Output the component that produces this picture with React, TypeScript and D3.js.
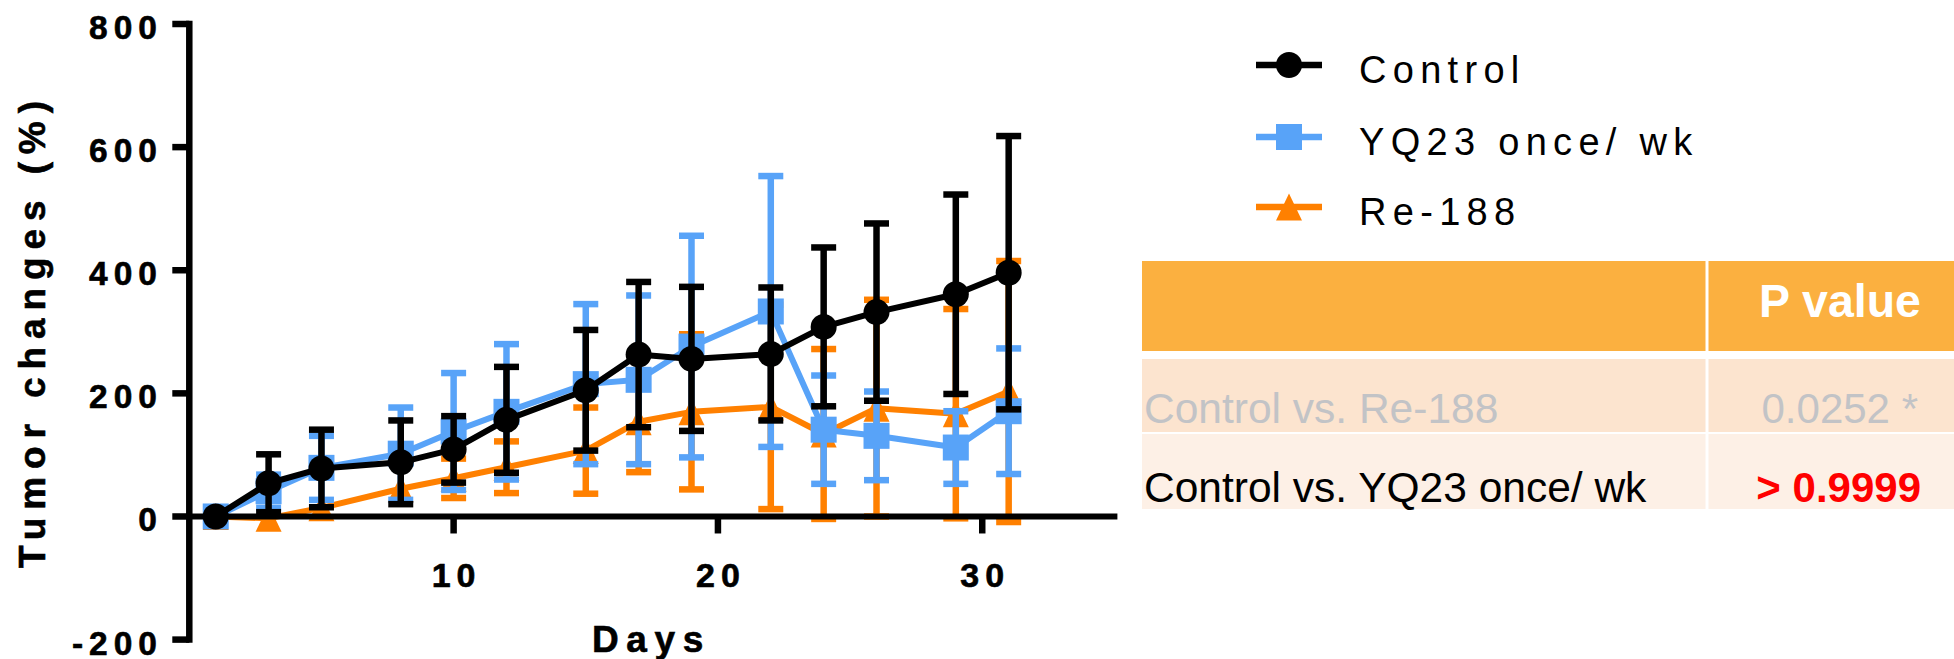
import React from "react";
import * as d3 from "d3";

// ---- data ----
const days = [1, 3, 5, 8, 10, 12, 15, 17, 19, 22, 24, 26, 29, 31];
const controlMean = [0, 54, 78, 88, 109, 157, 205, 263, 256, 264, 308, 332, 361, 396];
const controlErr = [0, 47, 63, 68, 54, 86, 98, 118, 117, 108, 129, 144, 162, 222];
const yq23Mean = [0, 41, 79, 102, 138, 170, 215, 222, 276, 333, 141, 131, 112, 171];
const yq23Err = [0, 27, 52, 75, 95, 110, 130, 137, 180, 220, 88, 72, 59, 102];
const re188Mean = [0, -3, 14, 45, 62, 80, 107, 154, 170, 178, 134, 176, 167, 203];
const re188Err = [0, 0, 0, 0, 32, 42, 70, 82, 126, 166, 138, 176, 170, 212];

const yTicks = [-200, 0, 200, 400, 600, 800];
const xTicks = [10, 20, 30];

const seriesNames = ["Control", "YQ23 once/ wk", "Re-188"];
const seriesColors = ["#000000", "#58A3F8", "#FF8000"];
const seriesShapes = ["circle", "square", "triangle"];

const tableHeader = ["", "P value"];
const tableComparisons = ["Control vs. Re-188", "Control vs. YQ23 once/ wk"];
const tablePValues = ["0.0252 *", "> 0.9999"];

const FONT = "'Liberation Sans', Arial, Helvetica, sans-serif";

function Marker({ shape, cx, cy, color }: { shape: string; cx: number; cy: number; color: string }) {
  if (shape === "circle") return <circle cx={cx} cy={cy} r={13} fill={color} />;
  if (shape === "square") return <rect x={cx - 13} y={cy - 13} width={26} height={26} fill={color} />;
  return (
    <path
      d={`M${cx},${cy - 13.5} L${cx + 13},${cy + 13.5} L${cx - 13},${cy + 13.5} Z`}
      fill={color}
    />
  );
}

export default function App() {
  const W = 1954;
  const H = 659;
  const x = d3.scaleLinear().domain([0, 35]).range([189.3, 1114.4]);
  const y = d3.scaleLinear().domain([-200, 800]).range([639.6, 24]);

  const series = [
    { name: seriesNames[0], color: seriesColors[0], shape: seriesShapes[0], mean: controlMean, err: controlErr },
    { name: seriesNames[1], color: seriesColors[1], shape: seriesShapes[1], mean: yq23Mean, err: yq23Err },
    { name: seriesNames[2], color: seriesColors[2], shape: seriesShapes[2], mean: re188Mean, err: re188Err },
  ];

  const line = d3
    .line<number>()
    .x((_, i) => x(days[i]))
    .y((d) => y(d));

  // draw order: orange bottom, blue, black top
  const drawOrder = [2, 1, 0];

  const x0 = x(0);
  const xEnd = x(35);
  const y0 = y(0);

  const legendY = [65, 137, 207];

  // table geometry
  const tL = 1142;
  const tR = W;
  const tDiv = 1707;

  return (
    <svg
      width={W}
      height={H}
      style={{ position: "absolute", left: 0, top: 0, background: "#fff" }}
      fontFamily={FONT}
    >
      <rect x={0} y={0} width={W} height={H} fill="#fff" />

      {/* series */}
      {drawOrder.map((si) => {
        const s = series[si];
        return (
          <g key={s.name}>
            <path d={line(s.mean) || ""} fill="none" stroke={s.color} strokeWidth={6} strokeLinejoin="round" />
            {s.mean.map((m, i) => {
              const e = s.err[i];
              if (!e) return null;
              const cx = x(days[i]);
              const yt = y(m + e);
              const yb = y(m - e);
              return (
                <g key={i}>
                  <line x1={cx} x2={cx} y1={yt} y2={yb} stroke={s.color} strokeWidth={6.5} />
                  <line x1={cx - 12.5} x2={cx + 12.5} y1={yt} y2={yt} stroke={s.color} strokeWidth={6.5} />
                  <line x1={cx - 12.5} x2={cx + 12.5} y1={yb} y2={yb} stroke={s.color} strokeWidth={6.5} />
                </g>
              );
            })}
            {s.mean.map((m, i) => (
              <Marker key={i} shape={s.shape} cx={x(days[i])} cy={y(m)} color={s.color} />
            ))}
          </g>
        );
      })}

      {/* axes */}
      <line x1={x0} x2={x0} y1={y(800)} y2={y(-200)} stroke="#000" strokeWidth={6.5} strokeLinecap="square" />
      <line x1={x0} x2={xEnd} y1={y0} y2={y0} stroke="#000" strokeWidth={6} strokeLinecap="square" />
      {yTicks.map((t) => (
        <g key={t}>
          <line x1={x0 - 17} x2={x0} y1={y(t)} y2={y(t)} stroke="#000" strokeWidth={6.5} />
          <text
            x={163}
            y={y(t) + 15}
            textAnchor="end"
            fontSize={33.5}
            fontWeight="bold"
            letterSpacing={6}
            fill="#000"
            stroke="#000"
            strokeWidth={0.6}
          >
            {t}
          </text>
        </g>
      ))}
      {xTicks.map((t) => (
        <g key={t}>
          <line x1={x(t)} x2={x(t)} y1={y0} y2={y0 + 17} stroke="#000" strokeWidth={6.5} />
          <text
            x={x(t) + 3}
            y={587}
            textAnchor="middle"
            fontSize={34}
            fontWeight="bold"
            letterSpacing={6}
            fill="#000"
            stroke="#000"
            strokeWidth={0.6}
          >
            {t}
          </text>
        </g>
      ))}
      <text x={592} y={652} fontSize={37} fontWeight="bold" letterSpacing={7.6} fill="#000" stroke="#000" strokeWidth={0.6}>
        Days
      </text>
      <text
        transform="translate(45,568) rotate(-90)"
        fontSize={37}
        fontWeight="bold"
        letterSpacing={7.9}
        fill="#000"
        stroke="#000"
        strokeWidth={0.6}
      >
        Tumor changes (%)
      </text>

      {/* legend */}
      {series.map((s, i) => (
        <g key={s.name}>
          <line x1={1256} x2={1322} y1={legendY[i]} y2={legendY[i]} stroke={s.color} strokeWidth={6.5} />
          <Marker shape={s.shape} cx={1289} cy={legendY[i]} color={s.color} />
          <text x={1359} y={legendY[i] + 17.5} fontSize={38} letterSpacing={6.3} fill="#000">
            {s.name}
          </text>
        </g>
      ))}

      {/* p value table */}
      <rect x={tL} y={261} width={tR - tL} height={90} fill="#FBB040" />
      <rect x={tL} y={359} width={tR - tL} height={73} fill="#FCE4CF" />
      <rect x={tL} y={434} width={tR - tL} height={75} fill="#FDF0E6" />
      <line x1={tDiv} x2={tDiv} y1={261} y2={509} stroke="#fff" strokeWidth={3} />
      <text x={tL + 2} y={317} fontSize={46} fontWeight="bold" fill="#fff">
        {tableHeader[0]}
      </text>
      <text x={1921} y={317} textAnchor="end" fontSize={46.5} fontWeight="bold" fill="#fff">
        {tableHeader[1]}
      </text>
      <text x={1144} y={423} fontSize={42.5} fill="#C2C3C6">
        {tableComparisons[0]}
      </text>
      <text x={1918} y={423} textAnchor="end" fontSize={42} fill="#C2C3C6">
        {tablePValues[0]}
      </text>
      <text x={1144} y={502} fontSize={42.5} fill="#000">
        {tableComparisons[1]}
      </text>
      <text x={1921} y={502} textAnchor="end" fontSize={42} fontWeight="bold" fill="#FF0000">
        {tablePValues[1]}
      </text>
    </svg>
  );
}
